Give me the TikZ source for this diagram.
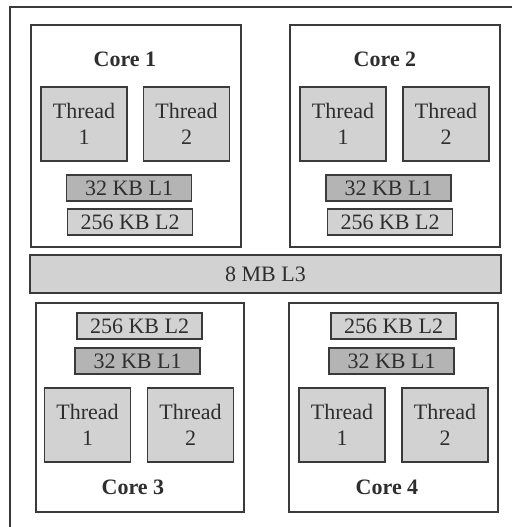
\documentclass[tikz,border=0pt]{standalone}
\usepackage{fontspec}
\setmainfont{Liberation Serif}
\usepackage{xcolor}
\usepackage{tikz}
\usetikzlibrary{positioning}

\definecolor{linegray}{HTML}{3A3A3A}
\definecolor{textgray}{HTML}{2E2E2E}
\definecolor{lightfill}{HTML}{D2D2D2}
\definecolor{darkfill}{HTML}{B4B4B4}

\begin{document}
\begin{tikzpicture}[
    x=1pt, y=-1pt,
    core/.style={rectangle, draw=linegray, line width=1.2pt, fill=white},
    corelabel/.style={font=\fontsize{22}{26}\selectfont\bfseries, text=textgray},
    thread/.style={rectangle, draw=linegray, line width=1.2pt, fill=lightfill, minimum width=86pt, minimum height=74pt, align=center, inner sep=0pt, font=\fontsize{22}{26}\selectfont, text=textgray},
    lone/.style={rectangle, draw=linegray, line width=1.2pt, fill=darkfill, minimum width=125pt, minimum height=26pt, inner sep=0pt, font=\fontsize{22}{26}\selectfont, text=textgray},
    ltwo/.style={lone, fill=lightfill}
]
    \useasboundingbox (0,0) rectangle (512,527);
    % outer frame (right and bottom edges lie off the page)
    \draw[linegray, line width=1.2pt] (512,7) -- (10,7) -- (10,527);

    % core 1
    \node[core, minimum width=210pt, minimum height=222pt] (core1) at (136,136) {};
    \node[corelabel] (core1lbl) at (125,59) {Core 1};
    \node[thread] (c1t1) at (84,124) {Thread\\1};
    \node[thread] (c1t2) at (186.5,124) {Thread\\2};
    \node[lone] (c1l1) at (129,188) {32 KB L1};
    \node[ltwo] (c1l2) at (130,222) {256 KB L2};

    % core 2
    \node[core, minimum width=210pt, minimum height=222pt] (core2) at (395,136) {};
    \node[corelabel] (core2lbl) at (385,59) {Core 2};
    \node[thread] (c2t1) at (343,124) {Thread\\1};
    \node[thread] (c2t2) at (446,124) {Thread\\2};
    \node[lone] (c2l1) at (388.5,188) {32 KB L1};
    \node[ltwo] (c2l2) at (390,222) {256 KB L2};

    % shared cache
    \node[ltwo, minimum width=471pt, minimum height=38pt] (l3) at (265.5,274) {8 MB L3};

    % core 3
    \node[core, minimum width=208pt, minimum height=209pt] (core3) at (140,407.5) {};
    \node[ltwo] (c3l2) at (139.5,326) {256 KB L2};
    \node[lone] (c3l1) at (137.5,361) {32 KB L1};
    \node[thread] (c3t1) at (87.5,425) {Thread\\1};
    \node[thread] (c3t2) at (190.5,425) {Thread\\2};
    \node[corelabel] (core3lbl) at (133,487) {Core 3};

    % core 4
    \node[core, minimum width=209pt, minimum height=209pt] (core4) at (393.5,407.5) {};
    \node[ltwo] (c4l2) at (393.5,326) {256 KB L2};
    \node[lone] (c4l1) at (391.5,361) {32 KB L1};
    \node[thread] (c4t1) at (342,425) {Thread\\1};
    \node[thread] (c4t2) at (445,425) {Thread\\2};
    \node[corelabel] (core4lbl) at (387,487) {Core 4};
\end{tikzpicture}
\end{document}
